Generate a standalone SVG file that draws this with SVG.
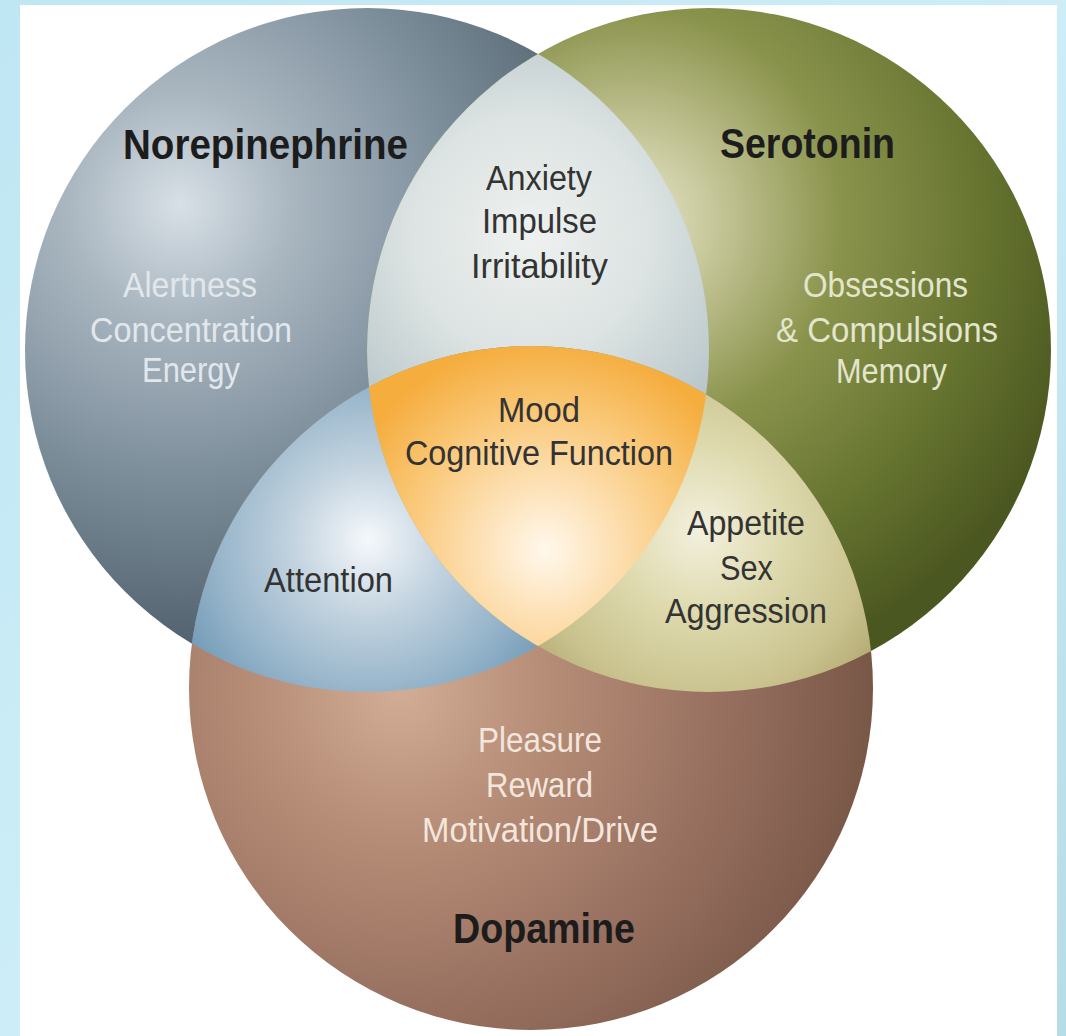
<svg xmlns="http://www.w3.org/2000/svg" width="1066" height="1036" viewBox="0 0 1066 1036">
  <defs>
    <linearGradient id="gBg" x1="0" y1="0" x2="1" y2="1">
      <stop offset="0" stop-color="#bfe6f3"/>
      <stop offset="0.5" stop-color="#cdeef8"/>
      <stop offset="1" stop-color="#b6dce6"/>
    </linearGradient>
    <radialGradient id="gN" gradientUnits="userSpaceOnUse" cx="180" cy="205" r="440">
      <stop offset="0" stop-color="#d8e0e6"/>
      <stop offset="0.25" stop-color="#aab7c1"/>
      <stop offset="0.6" stop-color="#7f909d"/>
      <stop offset="1" stop-color="#52636f"/>
    </radialGradient>
    <radialGradient id="gS" gradientUnits="userSpaceOnUse" cx="630" cy="220" r="470">
      <stop offset="0" stop-color="#e8e8cc"/>
      <stop offset="0.2" stop-color="#c2c394"/>
      <stop offset="0.45" stop-color="#8a934c"/>
      <stop offset="0.75" stop-color="#667430"/>
      <stop offset="1" stop-color="#4b5720"/>
    </radialGradient>
    <radialGradient id="gD" gradientUnits="userSpaceOnUse" cx="400" cy="690" r="490">
      <stop offset="0" stop-color="#d2ad96"/>
      <stop offset="0.3" stop-color="#b68d76"/>
      <stop offset="0.65" stop-color="#987060"/>
      <stop offset="1" stop-color="#765545"/>
    </radialGradient>
    <radialGradient id="gNS" gradientUnits="userSpaceOnUse" cx="530" cy="235" r="240">
      <stop offset="0" stop-color="#eef1ef"/>
      <stop offset="0.5" stop-color="#dce3e2"/>
      <stop offset="1" stop-color="#b7c5c9"/>
    </radialGradient>
    <radialGradient id="gND" gradientUnits="userSpaceOnUse" cx="368" cy="540" r="210">
      <stop offset="0" stop-color="#f5f8fb"/>
      <stop offset="0.35" stop-color="#c4d4e0"/>
      <stop offset="0.75" stop-color="#93b2c8"/>
      <stop offset="1" stop-color="#719ab7"/>
    </radialGradient>
    <radialGradient id="gSD" gradientUnits="userSpaceOnUse" cx="700" cy="530" r="210">
      <stop offset="0" stop-color="#f3f0de"/>
      <stop offset="0.4" stop-color="#dedaae"/>
      <stop offset="0.8" stop-color="#c9c28e"/>
      <stop offset="1" stop-color="#b6ac76"/>
    </radialGradient>
    <radialGradient id="gNSD" gradientUnits="userSpaceOnUse" cx="545" cy="550" r="210">
      <stop offset="0" stop-color="#fff8ec"/>
      <stop offset="0.3" stop-color="#fde2b8"/>
      <stop offset="0.7" stop-color="#f9c571"/>
      <stop offset="1" stop-color="#f5ad3e"/>
    </radialGradient>
    <clipPath id="cN"><circle cx="367" cy="350" r="342"/></clipPath>
    <clipPath id="cS"><circle cx="709" cy="350" r="342"/></clipPath>
    <clipPath id="cD"><circle cx="531" cy="688" r="342"/></clipPath>
  </defs>
  <style>
    text { font-family: "Liberation Sans", Arial, sans-serif; font-size: 35px; }
    .title { font-weight: bold; font-size: 43px; fill: #1c1c1c; }
    .dark { fill: #333333; }
    .lightN { fill: #e2e7eb; }
    .lightS { fill: #e3e5cd; }
    .lightD { fill: #f3e6de; }
  </style>

  <g id="background">
    <rect x="0" y="0" width="1066" height="1036" fill="url(#gBg)"/>
    <rect x="20" y="5" width="1037" height="1031" fill="#ffffff"/>
  </g>

  <g id="node-norepinephrine">
    <circle cx="367" cy="350" r="342" fill="url(#gN)"/>
  </g>
  <g id="node-serotonin">
    <circle cx="709" cy="350" r="342" fill="url(#gS)"/>
  </g>
  <g id="node-dopamine">
    <circle cx="531" cy="688" r="342" fill="url(#gD)"/>
  </g>

  <g id="overlap-norepinephrine-serotonin">
    <g clip-path="url(#cN)"><circle cx="709" cy="350" r="342" fill="url(#gNS)"/></g>
  </g>
  <g id="overlap-norepinephrine-dopamine">
    <g clip-path="url(#cN)"><circle cx="531" cy="688" r="342" fill="url(#gND)"/></g>
  </g>
  <g id="overlap-serotonin-dopamine">
    <g clip-path="url(#cS)"><circle cx="531" cy="688" r="342" fill="url(#gSD)"/></g>
  </g>
  <g id="overlap-all">
    <g clip-path="url(#cN)"><g clip-path="url(#cS)"><circle cx="531" cy="688" r="342" fill="url(#gNSD)"/></g></g>
  </g>

  <g id="connectors"/>

  <g id="labels-norepinephrine">
    <text class="title" x="123" y="159" textLength="285" lengthAdjust="spacingAndGlyphs">Norepinephrine</text>
    <text class="lightN" x="123" y="297" textLength="134" lengthAdjust="spacingAndGlyphs">Alertness</text>
    <text class="lightN" x="90" y="342" textLength="202" lengthAdjust="spacingAndGlyphs">Concentration</text>
    <text class="lightN" x="142" y="382" textLength="98" lengthAdjust="spacingAndGlyphs">Energy</text>
  </g>
  <g id="labels-serotonin">
    <text class="title" x="720" y="158" textLength="175" lengthAdjust="spacingAndGlyphs">Serotonin</text>
    <text class="lightS" x="803" y="297" textLength="165" lengthAdjust="spacingAndGlyphs">Obsessions</text>
    <text class="lightS" x="776" y="342" textLength="222" lengthAdjust="spacingAndGlyphs">&amp; Compulsions</text>
    <text class="lightS" x="836" y="383" textLength="111" lengthAdjust="spacingAndGlyphs">Memory</text>
  </g>
  <g id="labels-dopamine">
    <text class="lightD" x="478" y="752" textLength="124" lengthAdjust="spacingAndGlyphs">Pleasure</text>
    <text class="lightD" x="486" y="797" textLength="107" lengthAdjust="spacingAndGlyphs">Reward</text>
    <text class="lightD" x="422" y="842" textLength="236" lengthAdjust="spacingAndGlyphs">Motivation/Drive</text>
    <text class="title" x="453" y="943" textLength="182" lengthAdjust="spacingAndGlyphs">Dopamine</text>
  </g>
  <g id="labels-overlaps">
    <text class="dark" x="486" y="190" textLength="106" lengthAdjust="spacingAndGlyphs">Anxiety</text>
    <text class="dark" x="482" y="233" textLength="115" lengthAdjust="spacingAndGlyphs">Impulse</text>
    <text class="dark" x="471" y="278" textLength="137" lengthAdjust="spacingAndGlyphs">Irritability</text>
    <text class="dark" x="498" y="422" textLength="82" lengthAdjust="spacingAndGlyphs">Mood</text>
    <text class="dark" x="405" y="465" textLength="268" lengthAdjust="spacingAndGlyphs">Cognitive Function</text>
    <text class="dark" x="264" y="592" textLength="129" lengthAdjust="spacingAndGlyphs">Attention</text>
    <text class="dark" x="687" y="535" textLength="118" lengthAdjust="spacingAndGlyphs">Appetite</text>
    <text class="dark" x="720" y="580" textLength="53" lengthAdjust="spacingAndGlyphs">Sex</text>
    <text class="dark" x="665" y="623" textLength="162" lengthAdjust="spacingAndGlyphs">Aggression</text>
  </g>
</svg>
